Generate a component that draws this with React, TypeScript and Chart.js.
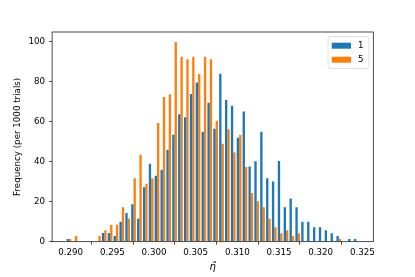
import React, { useEffect, useRef } from "react";
import { Chart, registerables } from "chart.js";

Chart.register(...registerables);

// Histogram bins (50 bins)
const BIN_START = 0.28945;
const BIN_WIDTH = 0.0007036;

const SERIES_LABELS = ["1", "5"];
const SERIES_COLORS = ["#1f77b4", "#ff7f0e"];

// Frequency (per 1000 trials) per bin
const SERIES_1 = [
  1.4, 0, 0, 0, 0, 0, 4.3, 4.3, 2.8, 10.0,
  14.4, 18.8, 11.5, 27.3, 39.0, 33.0, 36.0, 46.0, 53.6, 63.8,
  62.3, 73.9, 79.7, 55.0, 69.6, 56.5, 84.1, 71.0, 68.1, 52.0,
  65.2, 37.6, 40.3, 55.1, 31.8, 30.2, 40.4, 17.3, 21.6, 17.3,
  10.0, 10.0, 7.2, 7.2, 5.7, 4.2, 2.8, 0, 1.4, 1.4,
];
const SERIES_5 = [
  1.4, 2.8, 0, 0, 0, 2.8, 5.7, 8.5, 8.5, 17.3,
  11.6, 31.8, 43.5, 29.0, 31.8, 59.4, 72.5, 73.8, 100.0, 92.6,
  91.3, 92.6, 84.0, 92.6, 91.3, 60.6, 49.1, 56.3, 44.7, 53.4,
  37.4, 24.4, 20.2, 17.2, 11.5, 7.2, 4.2, 5.7, 2.8, 4.2,
  0, 0, 0, 0, 0, 0, 1.4, 0, 0, 0,
];

const X_TICKS = [0.29, 0.295, 0.3, 0.305, 0.31, 0.315, 0.32, 0.325];
const Y_TICKS = [0, 20, 40, 60, 80, 100];
const X_MIN = 0.28777;
const X_MAX = 0.32631;
const Y_MAX = 105;

const X_TITLE = "\u03b7\u0302";
const Y_TITLE = "Frequency (per 1000 trials)";

const FONT = "'DejaVu Sans', sans-serif";

const BIN_CENTERS = SERIES_1.map((_, i) => BIN_START + (i + 0.5) * BIN_WIDTH);

const framePlugin = {
  id: "mplFrame",
  afterDatasetsDraw(chart: any) {
    const { ctx, chartArea: a } = chart;
    ctx.save();
    ctx.strokeStyle = "#000";
    ctx.lineWidth = 0.7;
    ctx.strokeRect(a.left, a.top, a.right - a.left, a.bottom - a.top);
    ctx.restore();
  },
  afterDraw(chart: any) {
    const { ctx, chartArea: a } = chart;
    const ds = chart.data.datasets;
    const w = 41;
    const h = 32;
    const right = a.right - 4.3;
    const top = a.top + 4.5;
    const left = right - w;
    ctx.save();
    ctx.beginPath();
    const r = 2.5;
    ctx.moveTo(left + r, top);
    ctx.lineTo(left + w - r, top);
    ctx.arcTo(left + w, top, left + w, top + r, r);
    ctx.lineTo(left + w, top + h - r);
    ctx.arcTo(left + w, top + h, left + w - r, top + h, r);
    ctx.lineTo(left + r, top + h);
    ctx.arcTo(left, top + h, left, top + h - r, r);
    ctx.lineTo(left, top + r);
    ctx.arcTo(left, top, left + r, top, r);
    ctx.closePath();
    ctx.fillStyle = "rgba(255,255,255,0.8)";
    ctx.fill();
    ctx.strokeStyle = "rgba(204,204,204,0.8)";
    ctx.lineWidth = 0.8;
    ctx.stroke();
    ctx.font = `8.7px ${FONT}`;
    ctx.textBaseline = "middle";
    ctx.textAlign = "left";
    ds.forEach((d: any, i: number) => {
      const cy = top + 9.2 + i * 14;
      ctx.fillStyle = d.backgroundColor;
      ctx.fillRect(left + 3.7, cy - 3, 19.3, 6);
      ctx.fillStyle = "#000";
      ctx.fillText(d.label, left + 30, cy + 0.5);
    });
    ctx.restore();
  },
};

export default function App() {
  const ref = useRef<HTMLCanvasElement | null>(null);

  useEffect(() => {
    if (!ref.current) return;
    const datasets = [SERIES_1, SERIES_5].map((vals, k) => ({
      label: SERIES_LABELS[k],
      data: vals.map((v, i) => ({ x: BIN_CENTERS[i], y: v })),
      backgroundColor: SERIES_COLORS[k],
      borderWidth: 0,
      categoryPercentage: 0.8,
      barPercentage: 1.0,
    }));
    const chart = new Chart(ref.current, {
      type: "bar",
      data: { datasets },
      plugins: [framePlugin],
      options: {
        animation: false,
        responsive: false,
        devicePixelRatio: 1,
        layout: { padding: { top: 32, right: 41.7, bottom: 0, left: 0 } },
        plugins: {
          legend: { display: false },
          tooltip: { enabled: false },
        },
        scales: {
          x: {
            type: "linear",
            offset: false,
            min: X_MIN,
            max: X_MAX,
            afterBuildTicks: (scale: any) => {
              scale.ticks = X_TICKS.map((v) => ({ value: v }));
            },
            afterFit: (scale: any) => {
              scale.height = 35.3;
            },
            grid: {
              display: true,
              drawOnChartArea: false,
              drawTicks: true,
              tickLength: 3,
              tickColor: "#000",
              tickWidth: 0.7,
            },
            border: { display: false },
            ticks: {
              color: "#000",
              font: { family: FONT, size: 8.7 },
              padding: 2.5,
              maxRotation: 0,
              autoSkip: false,
              callback: (v: any) => Number(v).toFixed(3),
            },
            title: {
              display: true,
              text: X_TITLE,
              color: "#000",
              font: { family: FONT, size: 10, style: "italic" },
              padding: { top: 0, bottom: 4 },
            },
          },
          y: {
            type: "linear",
            min: 0,
            max: Y_MAX,
            afterBuildTicks: (scale: any) => {
              scale.ticks = Y_TICKS.map((v) => ({ value: v }));
            },
            afterFit: (scale: any) => {
              scale.width = 52.1;
            },
            grid: {
              display: true,
              drawOnChartArea: false,
              drawTicks: true,
              tickLength: 3,
              tickColor: "#000",
              tickWidth: 0.7,
            },
            border: { display: false },
            ticks: {
              color: "#000",
              font: { family: FONT, size: 8.7 },
              padding: 4,
              autoSkip: false,
              callback: (v: any) => String(v),
            },
            title: {
              display: true,
              text: Y_TITLE,
              color: "#000",
              font: { family: FONT, size: 8.7 },
              padding: { top: 12.3, bottom: 0 },
            },
          },
        },
      },
    } as any);
    return () => chart.destroy();
  }, []);

  return (
    <div style={{ position: "absolute", left: 0, top: 0, width: 415, height: 277, background: "#fff" }}>
      <canvas ref={ref} width={415} height={277} style={{ display: "block", width: 415, height: 277 }} />
    </div>
  );
}
